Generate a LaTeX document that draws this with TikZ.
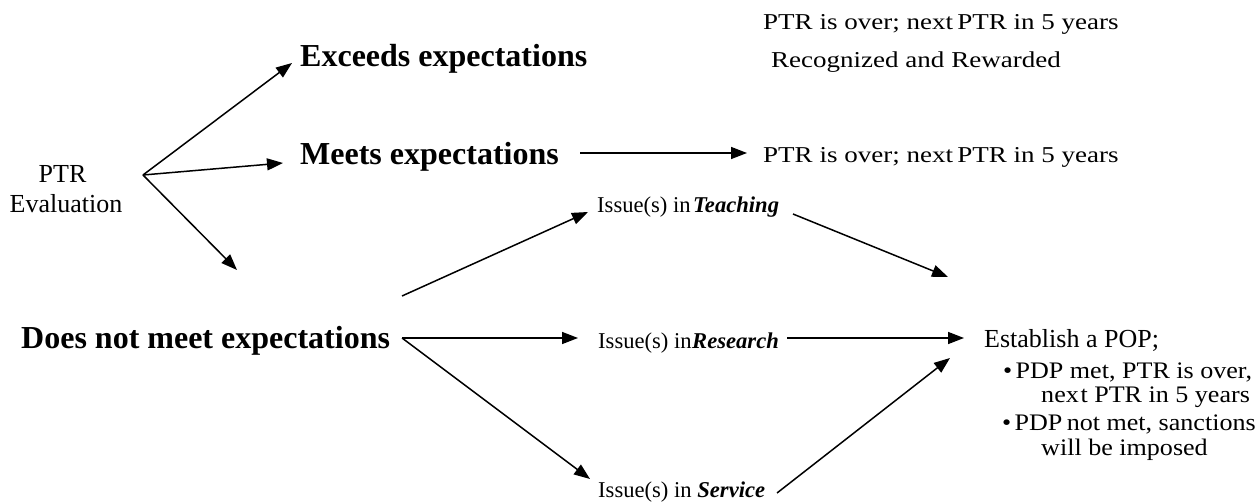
\documentclass[tikz,border=0pt]{standalone}
\usepackage{fontspec}
\setmainfont{Liberation Serif}
\usetikzlibrary{arrows.meta}
\newcommand{\widen}[2]{\scalebox{#1}[1]{#2}}
\tikzset{
  conn/.style={line width=1.5pt, -{Triangle[length=16pt,width=12pt]}},
  lbl/.style={inner sep=0pt, anchor=base west},
  evtxt/.style={inner sep=0pt, anchor=base, font=\fontsize{26pt}{30pt}\selectfont},
  big/.style={lbl, font=\fontsize{32pt}{36pt}\selectfont\bfseries},
  issue/.style={lbl, font=\fontsize{22.6pt}{26pt}\selectfont},
  outc/.style={lbl, font=\fontsize{22.7pt}{26pt}\selectfont},
  popt/.style={lbl, font=\fontsize{26pt}{30pt}\selectfont},
  bul/.style={lbl, font=\fontsize{23.7pt}{27pt}\selectfont},
}
\begin{document}
\begin{tikzpicture}[x=1pt,y=-1pt]
\useasboundingbox (0,0) rectangle (1257,502);
% texts
\node[evtxt] (ptr) at (62.5,183) {PTR};
\node[evtxt] (evaluation) at (66,213) {Evaluation};
\node[big] (exceeds) at (300,67) {Exceeds expectations};
\node[big] (meets) at (300,165) {Meets expectations};
\node[big] (dnm) at (21,348) {Does not meet expectations};
\node[outc] (over1) at (763,30) {\widen{1.19}{PTR is over; next\hspace{-2pt} PTR in 5 years}};
\node[outc] (recog) at (771,68) {\widen{1.19}{Recognized and Rewarded}};
\node[outc] (over2) at (763,163) {\widen{1.19}{PTR is over; next\hspace{-2pt} PTR in 5 years}};
\node[issue] (teach) at (597,213) {Issue(s) in\hspace{2.5pt}\textbf{\textit{Teaching}}};
\node[issue] (research) at (598,348) {Issue(s) in\hspace{0.5pt}\textbf{\textit{Research}}};
\node[issue] (service) at (598,497) {Issue(s) in \textbf{\textit{Service}}};
\node[popt] (pop) at (984,347) {Establish a POP;};
\node[bul] (b1) at (1003,378) {\widen{1.1}{\textbullet\hspace{3pt}PDP met, PTR is over,}};
\node[bul] (b1b) at (1041,402) {\widen{1.1}{nex\kern1.5pt t PTR in 5 years}};
\node[bul] (b2) at (1002,430) {\widen{1.1}{\textbullet\hspace{3pt}PDP\hspace{-2pt} not met, sanctions}};
\node[bul] (b2b) at (1041,455) {\widen{1.1}{will be imposed}};
% connector end points
\coordinate (ev) at (143,175);
\coordinate (excT) at (292,63);
\coordinate (meetT) at (283,163);
\coordinate (downT) at (237,270);
\coordinate (meetS) at (580,153);
\coordinate (over2T) at (747,153);
\coordinate (dnmS) at (402,338);
\coordinate (teachS) at (402,296);
\coordinate (teachT) at (588,212);
\coordinate (resT) at (578,338);
\coordinate (servT) at (590,479);
\coordinate (teachO) at (793,214);
\coordinate (resO) at (787,338);
\coordinate (servO) at (777,493);
\coordinate (popA) at (948,277);
\coordinate (popB) at (964,338);
\coordinate (popC) at (950,358);
% connectors
\draw[conn] (ev) -- (excT);
\draw[conn] (ev) -- (meetT);
\draw[conn] (ev) -- (downT);
\draw[conn] (meetS) -- (over2T);
\draw[conn] (teachS) -- (teachT);
\draw[conn] (dnmS) -- (resT);
\draw[conn] (dnmS) -- (servT);
\draw[conn] (teachO) -- (popA);
\draw[conn] (resO) -- (popB);
\draw[conn] (servO) -- (popC);
\end{tikzpicture}
\end{document}
